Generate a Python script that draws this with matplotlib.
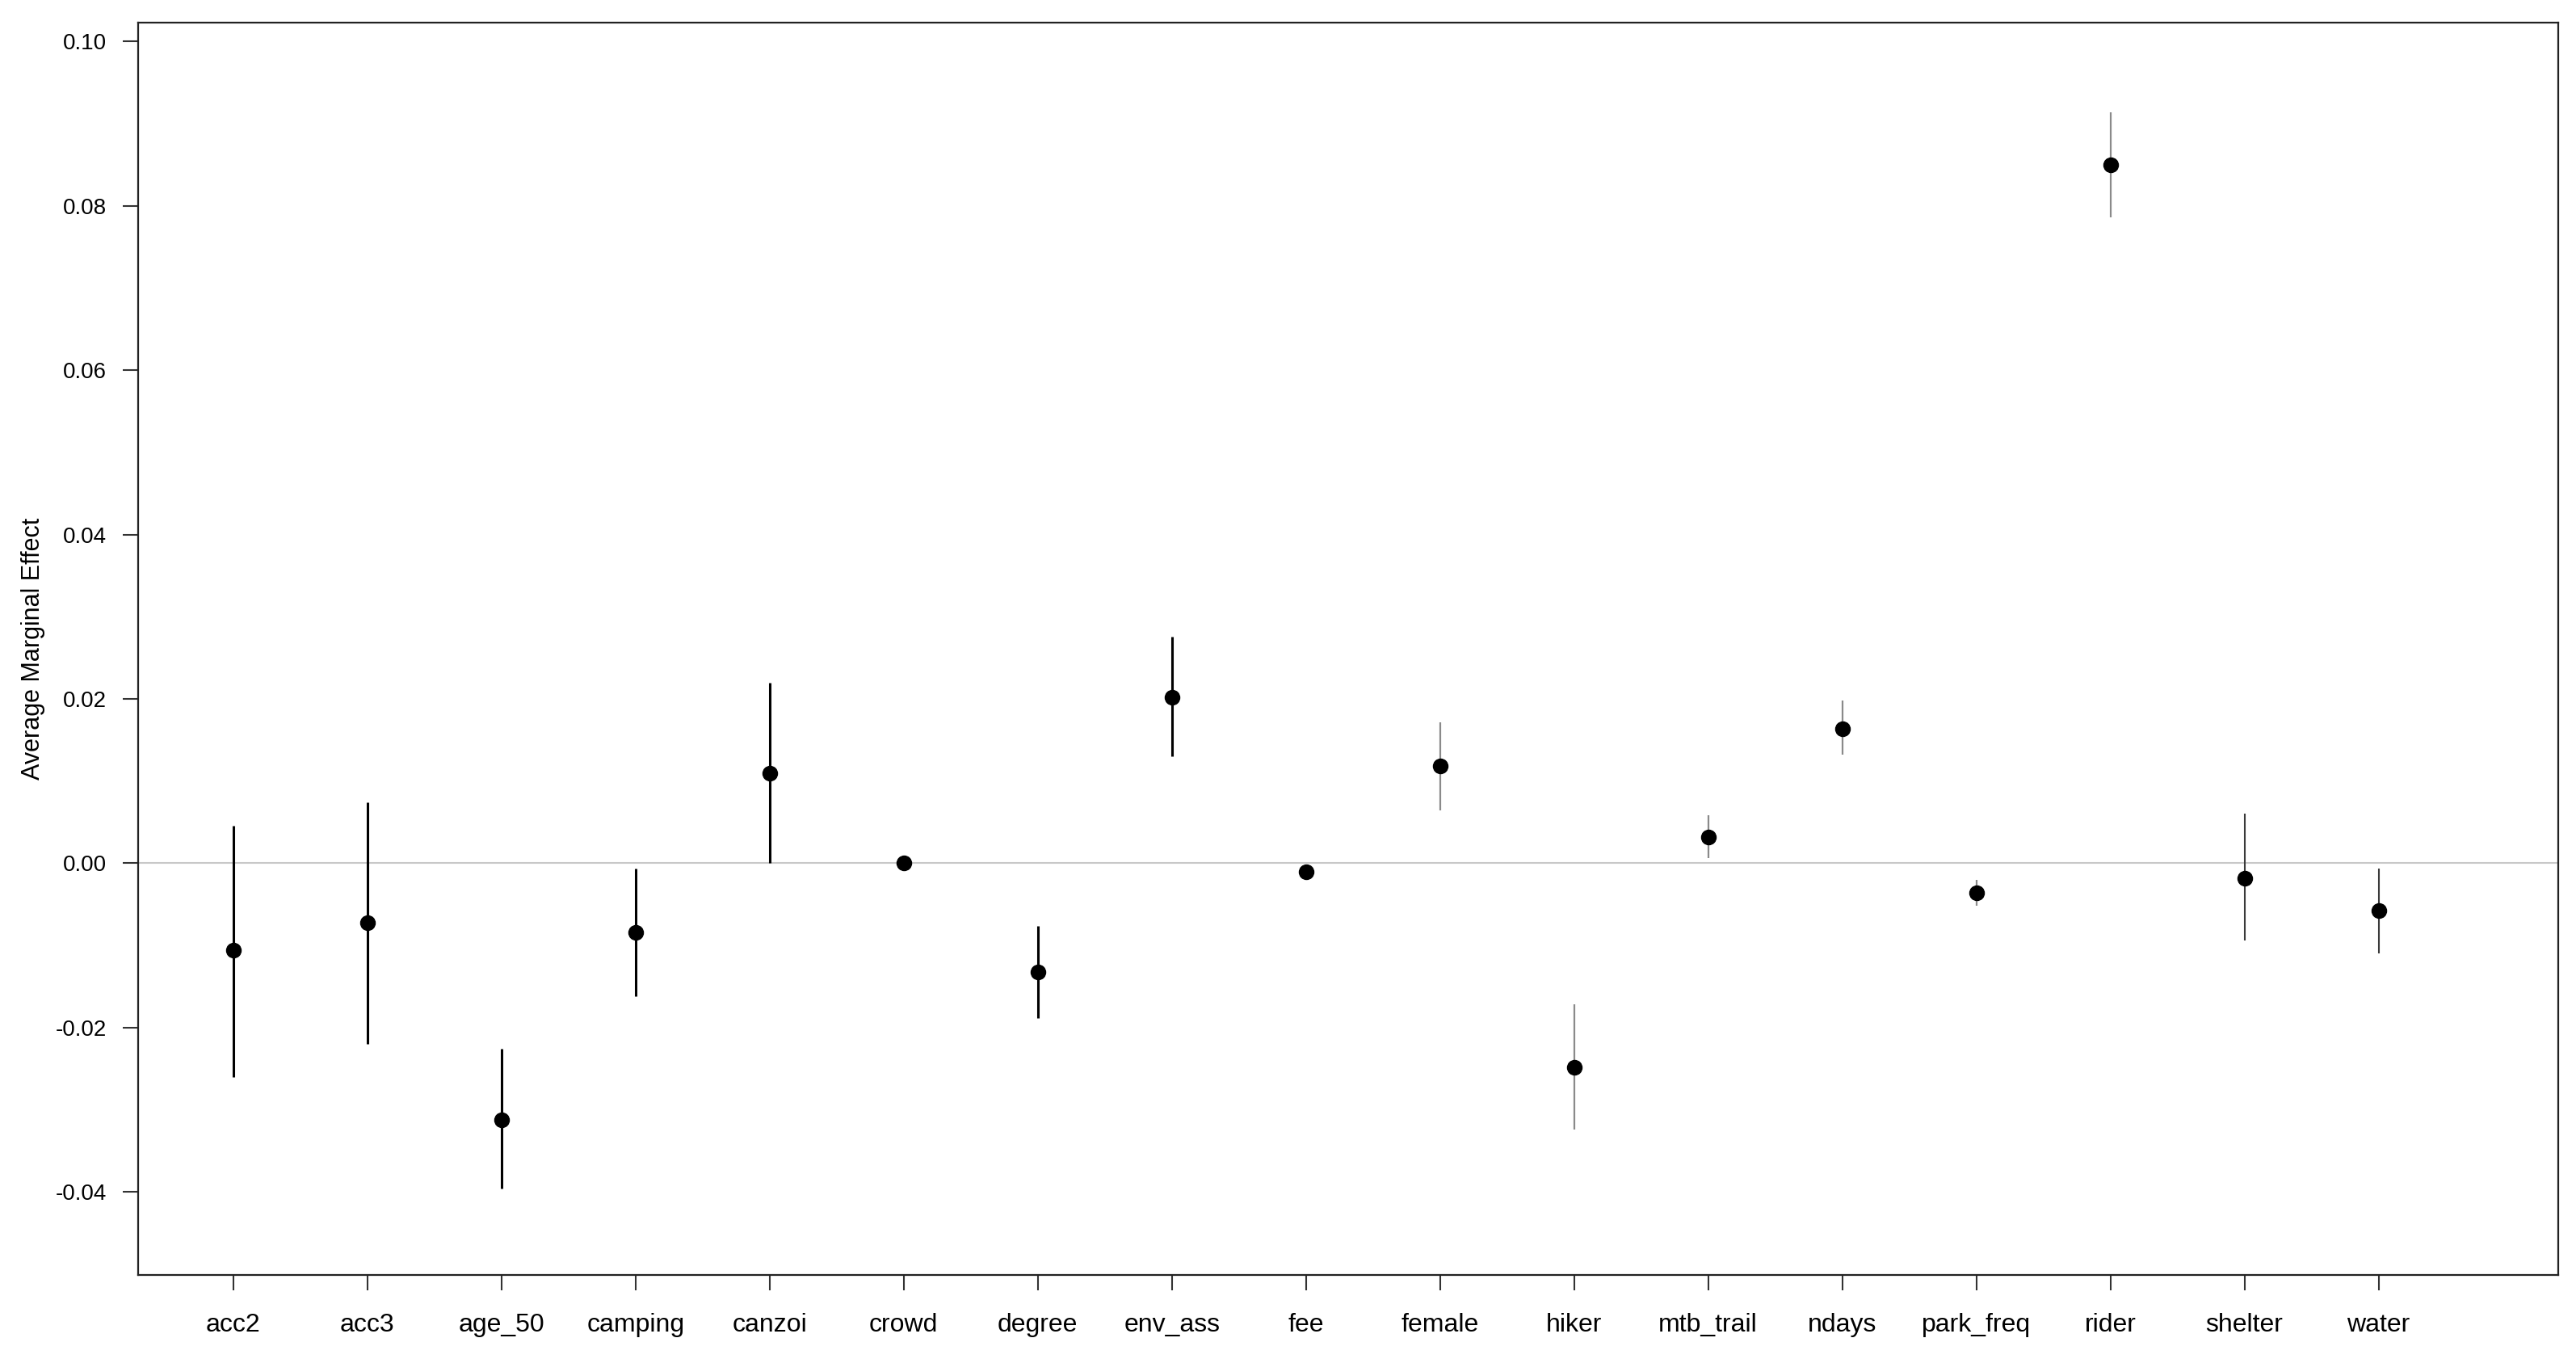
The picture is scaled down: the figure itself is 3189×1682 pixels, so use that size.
import matplotlib
matplotlib.use("Agg")
import matplotlib.pyplot as plt
from matplotlib.ticker import FormatStrFormatter

plt.rcParams.update({"font.family": ["Liberation Sans", "DejaVu Sans"], "font.size": 20})

variables = ["acc2", "acc3", "age_50", "camping", "canzoi", "crowd", "degree",
             "env_ass", "fee", "female", "hiker", "mtb_trail", "ndays",
             "park_freq", "rider", "shelter", "water"]
effects = [-0.0106, -0.0072, -0.0312, -0.0084, 0.0110, 0.0000, -0.0132,
           0.0202, -0.0010, 0.0118, -0.0248, 0.0032, 0.0164,
           -0.0036, 0.0850, -0.0018, -0.0058]
lower = [-0.0260, -0.0220, -0.0396, -0.0162, 0.0000, -0.0002, -0.0188,
         0.0130, -0.0014, 0.0064, -0.0324, 0.0006, 0.0132,
         -0.0052, 0.0786, -0.0094, -0.0110]
upper = [0.0046, 0.0074, -0.0226, -0.0006, 0.0220, 0.0002, -0.0076,
         0.0276, -0.0006, 0.0172, -0.0172, 0.0058, 0.0198,
         -0.0020, 0.0914, 0.0060, -0.0006]

# bar shades as they come out in the picture
bar_colors = ["black"] * 9 + ["#8a8a8a"] * 6 + ["#3a3a3a"] * 2
bar_widths = [2.2] * 9 + [1.6] * 6 + [1.5] * 2

fig = plt.figure(figsize=(31.89, 16.82), dpi=100)
ax = fig.add_axes([0.0536, 0.0618, 0.9395, 0.9216])

x = list(range(1, len(variables) + 1))
ax.axhline(0, color="#c8c8c8", lw=1.5, zorder=1)
for xi, lo, hi, c, w in zip(x, lower, upper, bar_colors, bar_widths):
    ax.vlines(xi, lo, hi, color=c, lw=w, zorder=2)
ax.plot(x, effects, "o", color="black", ms=13, zorder=3)

ax.set_xlim(0.29, 18.34)
ax.set_ylim(-0.0501, 0.1023)
ax.set_xticks(x)
ax.set_xticklabels(variables, fontsize=23)
ax.set_yticks([-0.04, -0.02, 0.00, 0.02, 0.04, 0.06, 0.08, 0.10])
ax.yaxis.set_major_formatter(FormatStrFormatter("%.2f"))
ax.tick_params(axis="both", length=14, width=1.5, color="#333333")
ax.tick_params(axis="x", pad=20)
ax.tick_params(axis="y", pad=14, labelsize=20)
ax.set_ylabel("Average Marginal Effect", fontsize=22, labelpad=9)
for s in ax.spines.values():
    s.set_linewidth(1.6)
    s.set_color("#222222")

fig.savefig("out.png", dpi=100)
